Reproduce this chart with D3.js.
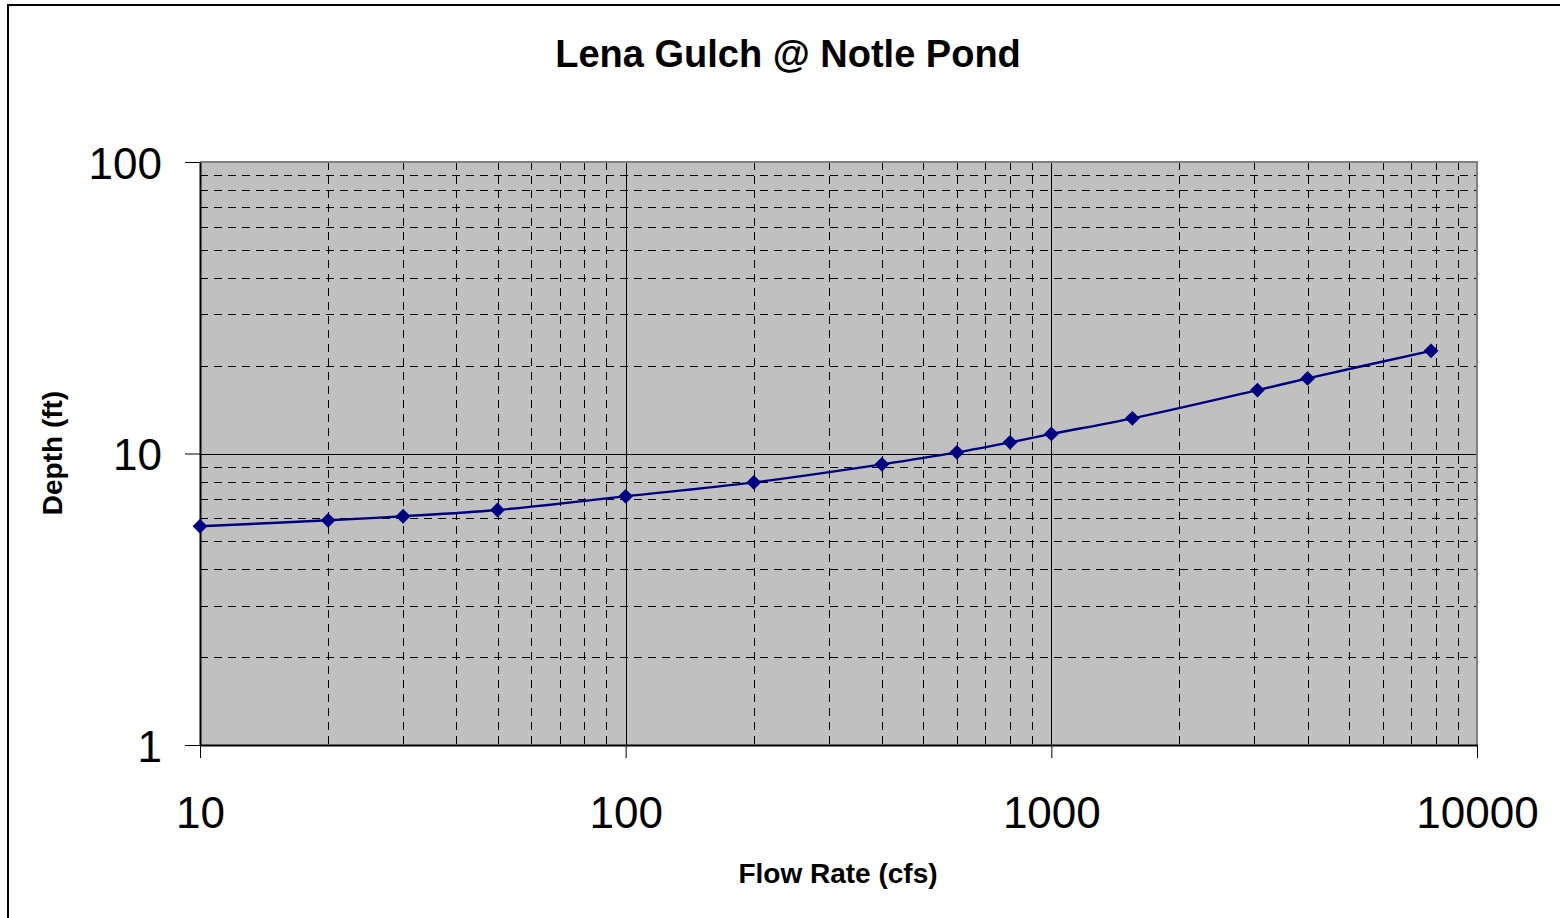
<!DOCTYPE html>
<html>
<head>
<meta charset="utf-8">
<script src="https://cdn.jsdelivr.net/npm/d3@7"></script>
<style>
  body { margin: 0; background: #fff; }
  svg { display: block; font-family: "Liberation Sans", Arial, sans-serif; }
</style>
</head>
<body>
<script>
// flow rate (cfs) and depth (ft)
const flowRates = [10, 20, 30, 50, 100, 200, 400, 600, 800, 1000, 1550, 3050, 4000, 7800];
const depths = [5.63, 5.9, 6.09, 6.4, 7.13, 7.96, 9.18, 10.09, 10.92, 11.67, 13.2, 16.5, 18.1, 22.5];
const xTickValues = [10, 100, 1000, 10000];
const yTickValues = [1, 10, 100];

const width = 1560;
const height = 918;
const plot = { left: 200, right: 1477, top: 162, bottom: 745 };

const svg = d3.select("body").append("svg")
  .attr("width", width)
  .attr("height", height);

// outer chart border
svg.append("rect")
  .attr("x", 8).attr("y", 5)
  .attr("width", width + 20).attr("height", height + 20)
  .attr("fill", "#fff")
  .attr("stroke", "#000")
  .attr("stroke-width", 2);

const x = d3.scaleLog().domain([10, 10000]).range([plot.left, plot.right]);
const y = d3.scaleLog().domain([1, 100]).range([plot.bottom, plot.top]);

svg.append("rect")
  .attr("x", plot.left).attr("y", plot.top)
  .attr("width", plot.right - plot.left)
  .attr("height", plot.bottom - plot.top)
  .attr("fill", "#c0c0c0");

const grid = svg.append("g");

// minor gridlines (dashed)
const xMinor = x.ticks().filter(d => !xTickValues.includes(d));
const yMinor = y.ticks().filter(d => !yTickValues.includes(d));

grid.selectAll(".ymin").data(yMinor).enter().append("line")
  .attr("x1", plot.left).attr("x2", plot.right)
  .attr("y1", d => Math.round(y(d)) + 0.5).attr("y2", d => Math.round(y(d)) + 0.5)
  .attr("stroke", "#000").attr("stroke-width", 1)
  .attr("stroke-dasharray", "8,6");

grid.selectAll(".xmin").data(xMinor).enter().append("line")
  .attr("y1", plot.top).attr("y2", plot.bottom)
  .attr("x1", d => Math.round(x(d)) + 0.5).attr("x2", d => Math.round(x(d)) + 0.5)
  .attr("stroke", "#000").attr("stroke-width", 1)
  .attr("stroke-dasharray", "8,6");

// major gridlines (solid), interior only
grid.selectAll(".ymaj").data([10]).enter().append("line")
  .attr("x1", plot.left).attr("x2", plot.right)
  .attr("y1", d => Math.round(y(d)) + 0.5).attr("y2", d => Math.round(y(d)) + 0.5)
  .attr("stroke", "#000").attr("stroke-width", 1);

grid.selectAll(".xmaj").data([100, 1000]).enter().append("line")
  .attr("y1", plot.top).attr("y2", plot.bottom)
  .attr("x1", d => Math.round(x(d)) + 0.5).attr("x2", d => Math.round(x(d)) + 0.5)
  .attr("stroke", "#000").attr("stroke-width", 1);

// plot border top/right
svg.append("path")
  .attr("d", `M${plot.left},${plot.top}H${plot.right}V${plot.bottom}`)
  .attr("fill", "none")
  .attr("stroke", "#808080")
  .attr("stroke-width", 2);

// axes
const xAxis = d3.axisBottom(x)
  .tickValues(xTickValues)
  .tickFormat(d3.format("d"))
  .tickSize(13)
  .tickSizeOuter(0);

const yAxis = d3.axisLeft(y)
  .tickValues(yTickValues)
  .tickFormat(d3.format("d"))
  .tickSize(15)
  .tickSizeOuter(0);

const gx = svg.append("g")
  .attr("transform", `translate(0,${plot.bottom})`)
  .call(xAxis);
gx.select(".domain").attr("stroke", "#000").attr("stroke-width", 2);
gx.selectAll(".tick line").attr("stroke", "#000");
gx.selectAll(".tick text")
  .attr("font-size", 44)
  .attr("font-family", "Liberation Sans, Arial, sans-serif")
  .attr("fill", "#000")
  .attr("y", 83)
  .attr("dy", 0);

const gy = svg.append("g")
  .attr("transform", `translate(${plot.left},0)`)
  .call(yAxis);
gy.select(".domain").attr("stroke", "#000").attr("stroke-width", 2);
gy.selectAll(".tick line").attr("stroke", "#000");
gy.selectAll(".tick text")
  .attr("font-size", 44)
  .attr("font-family", "Liberation Sans, Arial, sans-serif")
  .attr("fill", "#000")
  .attr("x", -38)
  .attr("dy", 16);

// data line (smoothed) and diamond markers
const data = flowRates.map((f, i) => ({ flow: f, depth: depths[i] }));

const line = d3.line()
  .x(d => x(d.flow))
  .y(d => y(d.depth))
  .curve(d3.curveCatmullRom);

svg.append("path")
  .datum(data)
  .attr("d", line)
  .attr("fill", "none")
  .attr("stroke", "#000080")
  .attr("stroke-width", 2.4);

const diamond = d3.symbol().type(d3.symbolSquare).size(110);

svg.selectAll(".mark")
  .data(data)
  .enter()
  .append("path")
  .attr("class", "mark")
  .attr("d", diamond)
  .attr("transform", d => `translate(${x(d.flow)},${y(d.depth)}) rotate(45)`)
  .attr("fill", "#000080");

// titles
svg.append("text")
  .attr("x", 788).attr("y", 67)
  .attr("text-anchor", "middle")
  .attr("font-size", 38)
  .attr("font-weight", "bold")
  .text("Lena Gulch @ Notle Pond");

svg.append("text")
  .attr("x", 838).attr("y", 883)
  .attr("text-anchor", "middle")
  .attr("font-size", 28)
  .attr("font-weight", "bold")
  .text("Flow Rate (cfs)");

svg.append("text")
  .attr("transform", "translate(62,453) rotate(-90)")
  .attr("text-anchor", "middle")
  .attr("font-size", 28)
  .attr("font-weight", "bold")
  .text("Depth (ft)");
</script>
</body>
</html>
